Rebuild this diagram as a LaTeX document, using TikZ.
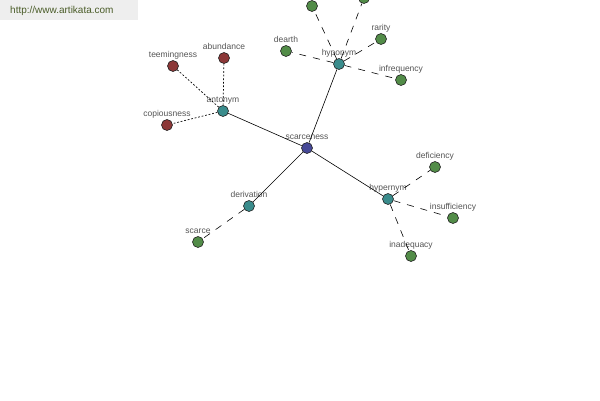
\documentclass[tikz,border=0pt]{standalone}
\usepackage{fontspec}
\setmainfont{Liberation Sans}
\definecolor{cblue}{RGB}{70,72,150}
\definecolor{cteal}{RGB}{58,140,140}
\definecolor{cgreen}{RGB}{82,140,72}
\definecolor{cred}{RGB}{140,56,56}
\definecolor{cline}{RGB}{35,35,35}
\definecolor{clab}{RGB}{85,85,85}
\definecolor{cwm}{RGB}{74,92,40}
\definecolor{cwmbg}{RGB}{238,238,238}
\tikzset{
  dot/.style={circle,draw=cline,line width=0.6pt,minimum size=11pt,inner sep=0pt},
  lab/.style={font=\fontsize{8.5}{9}\selectfont,text=clab,inner sep=0pt,anchor=base},
  hub/.style={dot,fill=cblue},
  rel/.style={dot,fill=cteal},
  syn/.style={dot,fill=cgreen},
  ant/.style={dot,fill=cred},
  solidedge/.style={draw=black,line width=0.6pt},
  dashedge/.style={draw=black,line width=0.6pt,dash pattern=on 7pt off 7pt},
  dotedge/.style={draw=black,line width=0.7pt,dash pattern=on 1.8pt off 1.8pt},
}
\begin{document}
\begin{tikzpicture}[x=1pt,y=-1pt]
\useasboundingbox (0,0) rectangle (600,400);
\clip (0,0) rectangle (600,400);
\fill[white] (0,0) rectangle (600,400);
% nodes
\node[hub,label={[lab,label distance=2.5pt]above:scarceness}] (scarceness) at (307,148) {};
\node[rel,label={[lab,label distance=2.5pt]above:antonym}] (antonym) at (223,111) {};
\node[rel,label={[lab,label distance=2.5pt]above:hyponym}] (hyponym) at (339,64) {};
\node[rel,label={[lab,label distance=2.5pt]above:hypernym}] (hypernym) at (388,199) {};
\node[rel,label={[lab,label distance=2.5pt]above:derivation}] (derivation) at (249,206) {};
\node[ant,label={[lab,label distance=2.5pt]above:teemingness}] (teemingness) at (173,66) {};
\node[ant,label={[lab,label distance=2.5pt]above:abundance}] (abundance) at (224,58) {};
\node[ant,label={[lab,label distance=2.5pt]above:copiousness}] (copiousness) at (167,125) {};
\node[syn,label={[lab,label distance=2.5pt]above:dearth}] (dearth) at (286,51) {};
\node[syn,label={[lab,label distance=2.5pt]above:rarity}] (rarity) at (381,39) {};
\node[syn,label={[lab,label distance=2.5pt]above:infrequency}] (infrequency) at (401,80) {};
\node[syn] (topa) at (312,6) {};
\node[syn] (topb) at (364,-2) {};
\node[syn,label={[lab,label distance=2.5pt]above:deficiency}] (deficiency) at (435,167) {};
\node[syn,label={[lab,label distance=2.5pt]above:insufficiency}] (insufficiency) at (453,218) {};
\node[syn,label={[lab,label distance=2.5pt]above:inadequacy}] (inadequacy) at (411,256) {};
\node[syn,label={[lab,label distance=2.5pt]above:scarce}] (scarce) at (198,242) {};
% edges
\begin{scope}[on background layer/.style={}]
\end{scope}
\path[solidedge] (scarceness) -- (antonym);
\path[solidedge] (scarceness) -- (hyponym);
\path[solidedge] (scarceness) -- (hypernym);
\path[solidedge] (scarceness) -- (derivation);
\path[dotedge] (antonym) -- (teemingness);
\path[dotedge] (antonym) -- (abundance);
\path[dotedge] (antonym) -- (copiousness);
\path[dashedge] (hyponym) -- (dearth);
\path[dashedge] (hyponym) -- (rarity);
\path[dashedge] (hyponym) -- (infrequency);
\path[dashedge] (hyponym) -- (topa);
\path[dashedge] (hyponym) -- (topb);
\path[dashedge] (hypernym) -- (deficiency);
\path[dashedge] (hypernym) -- (insufficiency);
\path[dashedge] (hypernym) -- (inadequacy);
\path[dashedge] (derivation) -- (scarce);
% watermark
\node[fill=cwmbg,minimum width=138pt,minimum height=20pt,inner sep=0pt,anchor=north west] (wmbox) at (0,0) {};
\node[font=\fontsize{10}{12}\selectfont,text=cwm,anchor=west,inner sep=0pt] (wm) at (10,11) {http://www.artikata.com};
\end{tikzpicture}
\end{document}
